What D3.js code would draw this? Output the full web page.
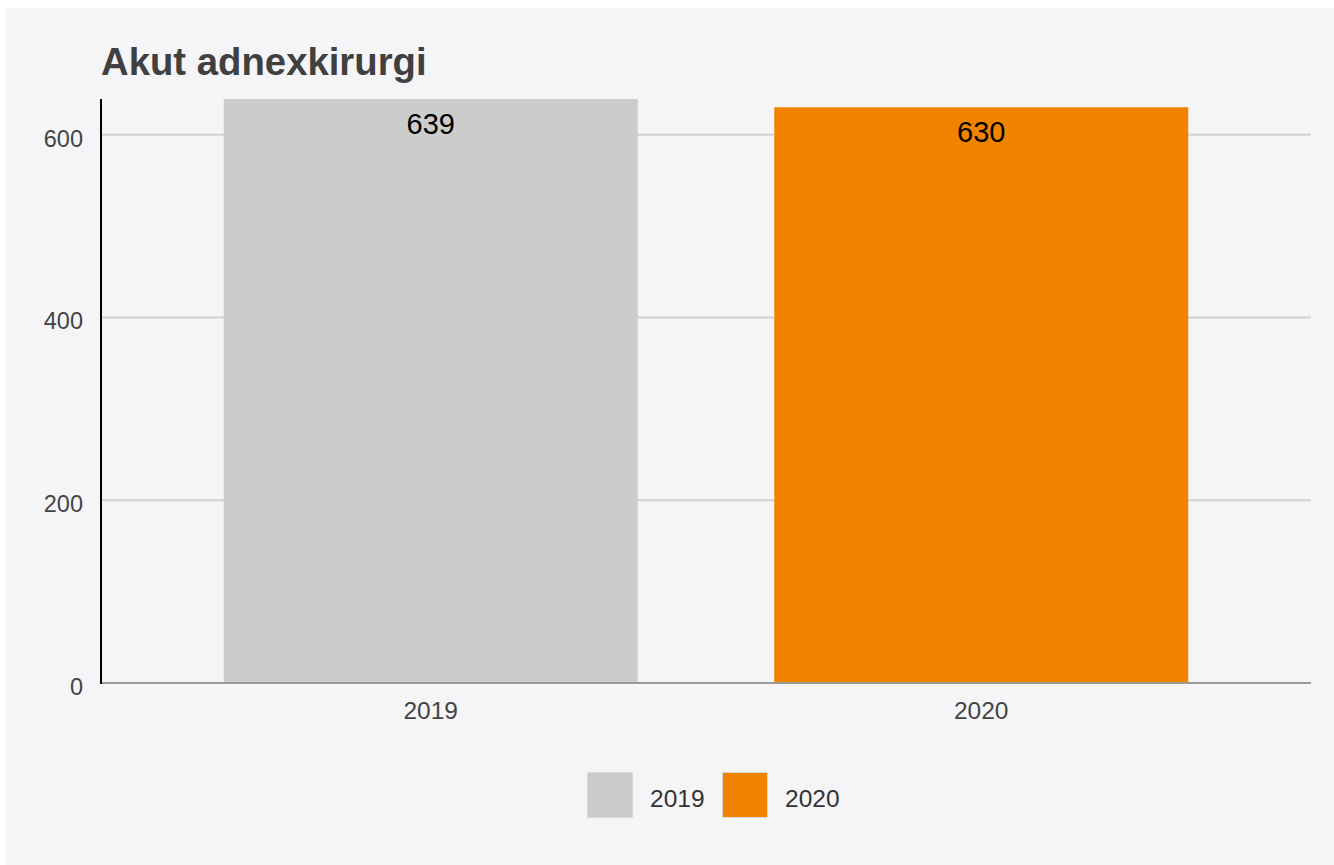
<!DOCTYPE html>
<html>
<head>
<meta charset="utf-8">
<script src="https://cdn.jsdelivr.net/npm/d3@7"></script>
<style>
  html, body { margin: 0; padding: 0; background: #ffffff; }
  svg { display: block; font-family: "Liberation Sans", Arial, sans-serif; }
</style>
</head>
<body>
<div id="chart"></div>
<script>
// data
const years = ["2019", "2020"];
const values = [639, 630];
const colors = ["#cccccc", "#f08300"];
const yTicks = [0, 200, 400, 600];
const title = "Akut adnexkirurgi";

const width = 1334, height = 865;
const plotLeft = 101, plotRight = 1311, plotTop = 99, plotBottom = 683;

const svg = d3.select("#chart")
  .append("svg")
  .attr("width", width)
  .attr("height", height);

// panel background
svg.append("rect")
  .attr("x", 6).attr("y", 8)
  .attr("width", width - 6).attr("height", height - 8)
  .attr("fill", "#f5f4f7");

const x = d3.scaleBand()
  .domain(years)
  .range([plotLeft, plotRight])
  .paddingInner(0.248)
  .paddingOuter(0.223);

const y = d3.scaleLinear()
  .domain([0, d3.max(values)])
  .range([plotBottom, plotTop]);

// gridlines
svg.selectAll(".grid")
  .data(yTicks.filter(d => d > 0))
  .enter()
  .append("line")
  .attr("x1", plotLeft).attr("x2", plotRight)
  .attr("y1", d => y(d)).attr("y2", d => y(d))
  .attr("stroke", "#d2d2d4")
  .attr("stroke-width", 2);

// y tick labels
svg.selectAll(".ytick")
  .data(yTicks)
  .enter()
  .append("text")
  .attr("x", plotLeft - 18)
  .attr("y", d => y(d) + 12)
  .attr("text-anchor", "end")
  .attr("font-size", 23.5)
  .attr("fill", "#444444")
  .text(d => d);

// bars
svg.selectAll(".bar")
  .data(values)
  .enter()
  .append("rect")
  .attr("x", (d, i) => x(years[i]))
  .attr("y", d => y(d))
  .attr("width", x.bandwidth())
  .attr("height", d => y(0) - y(d))
  .attr("fill", (d, i) => colors[i]);

// value labels
svg.selectAll(".val")
  .data(values)
  .enter()
  .append("text")
  .attr("x", (d, i) => x(years[i]) + x.bandwidth() / 2)
  .attr("y", d => y(d) + 35)
  .attr("text-anchor", "middle")
  .attr("font-size", 29)
  .attr("fill", "#000000")
  .text(d => d);

// x labels
svg.selectAll(".xlab")
  .data(years)
  .enter()
  .append("text")
  .attr("x", d => x(d) + x.bandwidth() / 2)
  .attr("y", 719)
  .attr("text-anchor", "middle")
  .attr("font-size", 24.5)
  .attr("fill", "#444444")
  .text(d => d);

// baseline and y axis line
svg.append("line")
  .attr("x1", plotLeft).attr("x2", plotRight)
  .attr("y1", y(0)).attr("y2", y(0))
  .attr("stroke", "#999999")
  .attr("stroke-width", 2);

svg.append("line")
  .attr("x1", plotLeft).attr("x2", plotLeft)
  .attr("y1", plotTop).attr("y2", plotBottom + 1)
  .attr("stroke", "#000000")
  .attr("stroke-width", 2);

// title
svg.append("text")
  .attr("x", 101)
  .attr("y", 75)
  .attr("font-size", 38.3)
  .attr("font-weight", "bold")
  .attr("fill", "#404040")
  .text(title);

// legend
const legendX = [587, 722];
const legend = svg.selectAll(".leg")
  .data(years)
  .enter()
  .append("g")
  .attr("transform", (d, i) => `translate(${legendX[i]},772)`);

legend.append("rect")
  .attr("x", 0.5).attr("y", 0.5)
  .attr("width", 45).attr("height", 45)
  .attr("fill", (d, i) => colors[i])
  .attr("stroke", "#dadada")
  .attr("stroke-width", 1);

legend.append("text")
  .attr("x", 63)
  .attr("y", 34.5)
  .attr("font-size", 24.5)
  .attr("fill", "#333333")
  .text(d => d);
</script>
</body>
</html>
